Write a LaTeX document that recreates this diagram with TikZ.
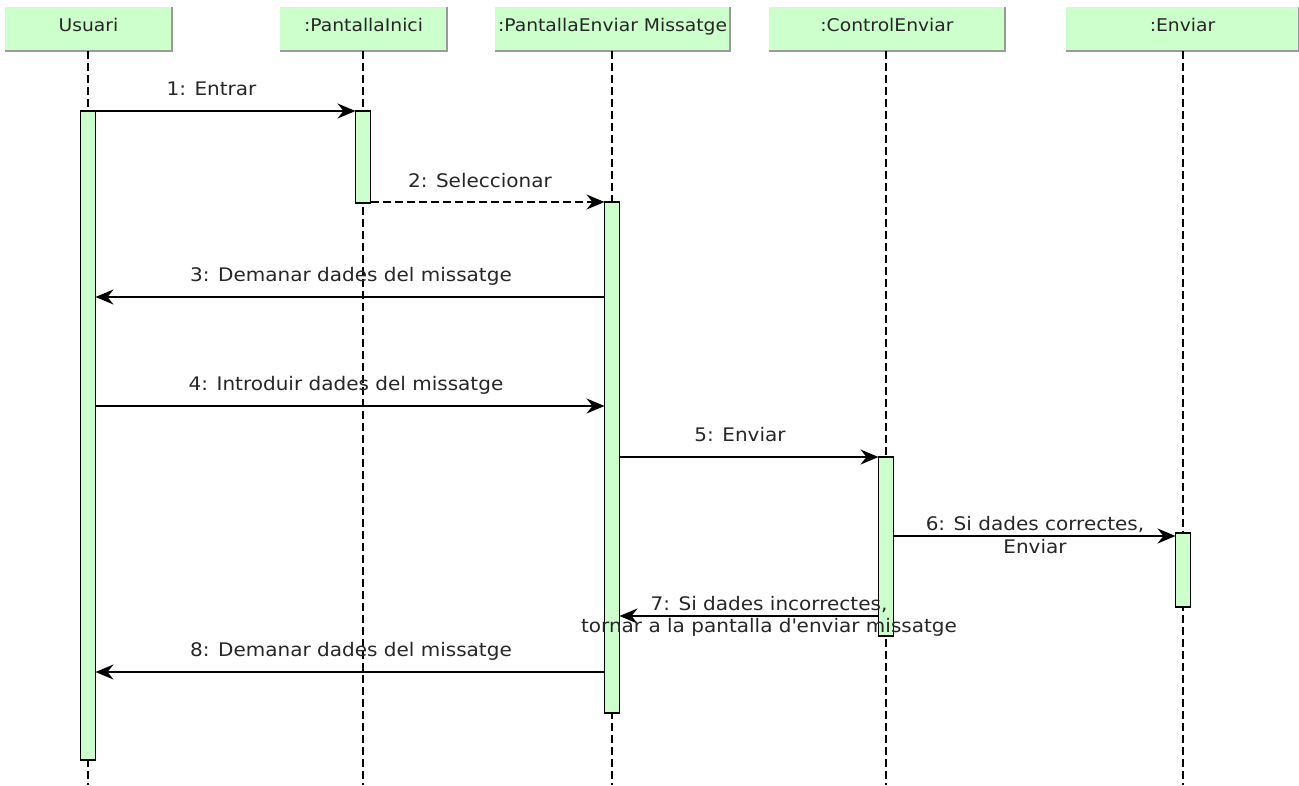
\documentclass[tikz,border=0pt]{standalone}
\usepackage{fontspec}
\setmainfont{DejaVu Sans}[FakeStretch=1.07]
\usetikzlibrary{arrows.meta}
\definecolor{objfill}{HTML}{CCFFCC}
\definecolor{objedge}{HTML}{9A9A9A}
\definecolor{inkcol}{HTML}{262626}

\begin{document}
\begin{tikzpicture}[x=1pt,y=-1pt,
  head/.style={rectangle, fill=objfill, inner sep=0pt, outer sep=0pt, text=inkcol,
    font=\fontsize{17.5}{21}\selectfont, text height=13pt, text depth=8pt, minimum height=44pt},
  life/.style={line width=1.5pt, dash pattern=on 8pt off 4pt},
  actbar/.style={rectangle, draw=black, fill=objfill, line width=1.4pt, minimum width=15pt,
    inner sep=0pt, outer sep=0pt},
  msg/.style={line width=1.8pt, -{Stealth[length=18pt,width=15pt,inset=6pt]}},
  reply/.style={msg, dash pattern=on 8pt off 4pt},
  lbl/.style={text=inkcol, font=\fontsize{18.7}{22.6}\selectfont, inner sep=0pt, anchor=base, align=center},
]
\useasboundingbox (0,0) rectangle (1299,785);

% object headers
\node[head, minimum width=167pt] (hU)  at (88.5,29)  {Usuari};
\node[head, minimum width=167pt] (hPI) at (363.5,29) {:PantallaInici};
\node[head, minimum width=235pt] (hPE) at (612.5,29) {:PantallaEnviar Missatge};
\node[head, minimum width=236pt] (hCE) at (887,29)   {:ControlEnviar};
\node[head, minimum width=233pt] (hEN) at (1182.5,29) {:Enviar};
\foreach \h in {hU,hPI,hPE,hCE,hEN}
  \draw[objedge, line width=1.2pt] (\h.north east) -- (\h.south east) -- (\h.south west);

% lifelines
\coordinate (eU)  at (88,785);
\coordinate (ePI) at (363,785);
\coordinate (ePE) at (612,785);
\coordinate (eCE) at (886,785);
\coordinate (eEN) at (1183,785);
\draw[life] (hU.south -| eU) -- (eU);
\draw[life] (hPI.south -| ePI) -- (ePI);
\draw[life] (hPE.south -| ePE) -- (ePE);
\draw[life] (hCE.south -| eCE) -- (eCE);
\draw[life] (hEN.south -| eEN) -- (eEN);

% activation bars
\node[actbar, minimum height=649pt] (bU)  at (88,435.5) {};
\node[actbar, minimum height=92pt]  (bPI) at (363,157) {};
\node[actbar, minimum height=511pt] (bPE) at (612,457.5) {};
\node[actbar, minimum height=179pt] (bCE) at (886,546.5) {};
\node[actbar, minimum height=74pt]  (bEN) at (1183,570) {};

% message levels
\coordinate (m3) at (0,297);
\coordinate (m4) at (0,406);
\coordinate (m6) at (0,536);
\coordinate (m7) at (0,616);
\coordinate (m8) at (0,672);

% messages
\draw[msg]   (bU.north east) -- (bPI.north west);
\draw[reply] (bPI.east |- bPE.north) -- (bPE.north west);
\draw[msg]   (bPE.west |- m3) -- (bU.east |- m3);
\draw[msg]   (bU.east |- m4) -- (bPE.west |- m4);
\draw[msg]   (bPE.east |- bCE.north) -- (bCE.north west);
\draw[msg]   (bCE.east |- m6) -- (bEN.west |- m6);
\draw[msg]   (bCE.west |- m7) -- (bPE.east |- m7);
\draw[msg]   (bPE.west |- m8) -- (bU.east |- m8);

% message labels (base anchor sits on the last line of two-line labels)
\node[lbl] (l1) at (211.5,95) {1: Entrar};
\node[lbl] (l2) at (480,187)  {2: Seleccionar};
\node[lbl] (l3) at (351,281)  {3: Demanar dades del missatge};
\node[lbl] (l4) at (346,390)  {4: Introduir dades del missatge};
\node[lbl] (l5) at (740,441)  {5: Enviar};
\node[lbl] (l6) at (1035,553.3) {6: Si dades correctes,\\Enviar};
\node[lbl] (l7) at (769,632.7)  {7: Si dades incorrectes,\\tornar a la pantalla d\textquotesingle enviar missatge};
\node[lbl] (l8) at (351,656)  {8: Demanar dades del missatge};
\end{tikzpicture}
\end{document}
